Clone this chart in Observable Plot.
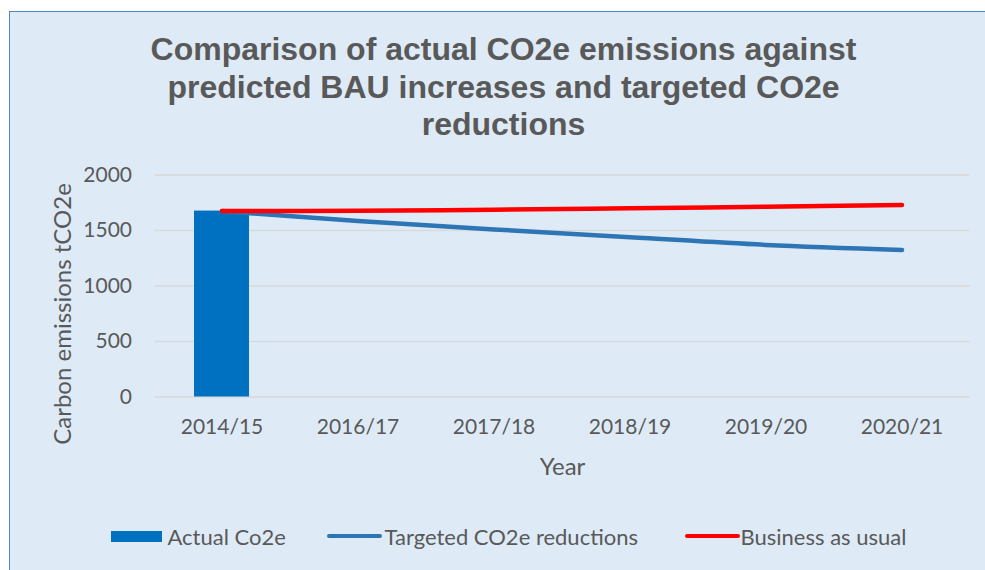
<!DOCTYPE html>
<html>
<head>
<meta charset="utf-8">
<script src="https://cdn.jsdelivr.net/npm/d3@7"></script>
<script src="https://cdn.jsdelivr.net/npm/@observablehq/plot@0.6"></script>
<style>
  html, body { margin: 0; padding: 0; background: #ffffff; }
  #frame {
    position: absolute; left: 9px; top: 11px; width: 976px; height: 559px;
    box-sizing: border-box; background: #DEEBF7;
    border-left: 1.5px solid #4A86C8; border-top: 1.5px solid #4A86C8;
    overflow: hidden;
  }
  #title {
    height: 150px; box-sizing: border-box; padding-top: 19px;
    font-family: "Liberation Sans", Arial, sans-serif; font-weight: bold;
    font-size: 32px; line-height: 37.5px; color: #595959; text-align: center;
    padding-left: 13px; width: 974px;
  }
  #title div { width: 800px; margin: 0 auto; }
  #legend { position: relative; height: 44px; font-family: Lato, sans-serif; font-size: 22px; color: #595959; }
  .item { position: absolute; top: 0; height: 44px; display: flex; align-items: center; white-space: nowrap; }
  .sw { display: inline-block; }
</style>
</head>
<body>
<div id="frame">
  <div id="title"><div>Comparison of actual CO2e emissions against predicted BAU increases and targeted CO2e reductions</div></div>
  <div id="chart"></div>
  <div id="legend"></div>
</div>
<script>
const years = ["2014/15", "2016/17", "2017/18", "2018/19", "2019/20", "2020/21"];
const actualYears = ["2014/15"];
const actualValues = [1675];
const targetedValues = [1675, 1585, 1510, 1440, 1370, 1325];
const bauValues = [1675, 1677, 1688, 1700, 1714, 1730];
const yTicks = [0, 500, 1000, 1500, 2000];
const seriesNames = ["Actual Co2e", "Targeted CO2e reductions", "Business as usual"];
const colors = {bar: "#0070C0", targeted: "#2E75B6", bau: "#FF0000"};

const actual = actualYears.map((y, i) => ({year: y, value: actualValues[i]}));
const targeted = years.map((y, i) => ({year: y, value: targetedValues[i]}));
const bau = years.map((y, i) => ({year: y, value: bauValues[i]}));

const W = 974, H = 352;
const chart = Plot.plot({
  width: W, height: H,
  marginLeft: 144.5, marginRight: 14.5, marginTop: 12.5, marginBottom: 117.5,
  style: {background: "transparent", color: "#595959", fontFamily: "Lato, sans-serif", fontSize: "21px", overflow: "visible"},
  x: {domain: years, paddingInner: 0.595, paddingOuter: 0.28},
  y: {domain: [0, 2000]},
  marks: [
    Plot.ruleY(yTicks, {stroke: "#D9D9D9", strokeWidth: 1.5}),
    Plot.barY(actual, {x: "year", y: "value", fill: colors.bar}),
    Plot.line(targeted, {x: "year", y: "value", stroke: colors.targeted, strokeWidth: 4.5, curve: "catmull-rom", strokeLinecap: "round"}),
    Plot.line(bau, {x: "year", y: "value", stroke: colors.bau, strokeWidth: 4.5, curve: "catmull-rom", strokeLinecap: "round"}),
    Plot.axisY({ticks: yTicks, tickFormat: d => String(d), tickSize: 0, tickPadding: 23, label: null, fontSize: 21, fill: "#595959"}),
    Plot.axisX({tickSize: 0, tickPadding: 22, label: null, fontSize: 21, fill: "#595959"}),
    Plot.text(["Year"], {frameAnchor: "bottom", dy: 70, lineAnchor: "middle", textAnchor: "middle", fontSize: 24, fill: "#595959"}),
    Plot.text(["Carbon emissions tCO2e"], {frameAnchor: "left", dx: -92, dy: 28, rotate: -90, lineAnchor: "middle", textAnchor: "middle", fontSize: 24, fill: "#595959"})
  ]
});
document.getElementById("chart").appendChild(chart);

// Legend (HTML), positions relative to frame padding box (x offset 10.5)
const legend = document.getElementById("legend");
const items = [
  {name: seriesNames[0], left: 111 - 10.5, sw: `<span class="sw" style="width:51px;height:11px;background:${colors.bar};margin-right:6px"></span>`},
  {name: seriesNames[1], left: 327 - 10.5, sw: `<span class="sw" style="width:55px;height:4.5px;border-radius:2px;background:${colors.targeted};margin-right:3px"></span>`},
  {name: seriesNames[2], left: 685 - 10.5, sw: `<span class="sw" style="width:55px;height:4.5px;border-radius:2px;background:${colors.bau};margin-right:1px"></span>`}
];
for (const it of items) {
  const d = document.createElement("div");
  d.className = "item";
  d.style.left = it.left + "px";
  d.innerHTML = it.sw + `<span>${it.name}</span>`;
  legend.appendChild(d);
}
</script>
</body>
</html>
